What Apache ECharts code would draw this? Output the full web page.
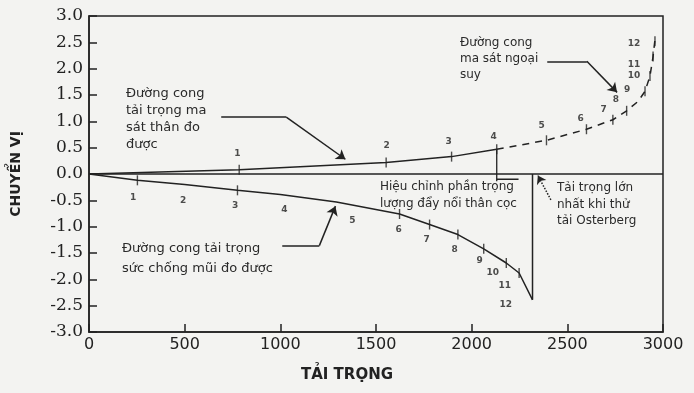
<!DOCTYPE html>
<html><head><meta charset="utf-8">
<script src="https://cdn.jsdelivr.net/npm/echarts@6/dist/echarts.min.js"></script>
<style>html,body{margin:0;padding:0;background:#f3f3f1}#c{width:694px;height:393px}</style>
</head><body><div id="c"></div>
<script>
// ---- data (load vs displacement) ----
var xTicks = [0, 500, 1000, 1500, 2000, 2500, 3000];
var yTicks = [-3.0, -2.5, -2.0, -1.5, -1.0, -0.5, 0.0, 0.5, 1.0, 1.5, 2.0, 2.5, 3.0];

// measured side-friction curve (solid)
var frictionLoad = [0, 785, 1553, 1895, 2131];
var frictionDisp = [0, 0.08, 0.22, 0.33, 0.47];
// extrapolated side-friction curve (dashed)
var extrapLoad = [2131, 2391, 2600, 2738, 2810, 2870, 2906, 2932, 2948, 2958];
var extrapDisp = [0.47, 0.64, 0.85, 1.03, 1.20, 1.38, 1.57, 1.86, 2.23, 2.55];
// numbered load steps on the upper curve
var upperStepLoad = [785, 1553, 1895, 2131, 2391, 2600, 2738, 2810, 2906, 2932, 2948, 2958];
var upperStepDisp = [0.08, 0.22, 0.33, 0.47, 0.64, 0.85, 1.03, 1.20, 1.57, 1.86, 2.23, 2.52];
var stepNames = ['1','2','3','4','5','6','7','8','9','10','11','12'];
var upperNameLoad = [775, 1555, 1880, 2115, 2366, 2570, 2690, 2754, 2812, 2848, 2848, 2848];
var upperNameDisp = [0.38, 0.53, 0.61, 0.70, 0.91, 1.06, 1.23, 1.42, 1.61, 1.86, 2.08, 2.48];

// measured end-bearing curve (solid, negative)
var bearingLoad = [0, 253, 500, 776, 1000, 1293, 1623, 1780, 1928, 2063, 2181, 2248, 2318];
var bearingDisp = [0, -0.12, -0.20, -0.31, -0.39, -0.53, -0.76, -0.96, -1.15, -1.42, -1.69, -1.88, -2.39];
var lowerTickLoad = [253, 776, 1623, 1780, 1928, 2063, 2181, 2248];
var lowerTickDisp = [-0.12, -0.31, -0.76, -0.96, -1.15, -1.42, -1.69, -1.88];
var lowerNameLoad = [230, 492, 764, 1021, 1377, 1618, 1764, 1911, 2042, 2110, 2173, 2178];
var lowerNameDisp = [-0.45, -0.51, -0.61, -0.68, -0.89, -1.06, -1.25, -1.44, -1.65, -1.88, -2.12, -2.48];

// maximum Osterberg load (vertical) and buoyant weight correction
var maxLoad = 2318;
var maxLoadDisp = [-2.39, 0.0];
var corrLoad = [2131, 2131];
var corrDisp = [0.47, -0.14];
var corrShiftLoad = [2131, 2245];
var corrShiftDisp = [-0.10, -0.10];

function zip(a, b) { return a.map(function (v, i) { return [v, b[i]]; }); }
function zip3(a, b, c) { return a.map(function (v, i) { return [v, b[i], c[i]]; }); }

var INK = '#222';
var chart = echarts.init(document.getElementById('c'), null, {renderer: 'canvas'});
var option = {
  backgroundColor: '#f3f3f1',
  animation: false,
  grid: {left: 89, right: 31, top: 16, bottom: 61, show: true, borderColor: INK, borderWidth: 1.5, backgroundColor: 'transparent'},
  xAxis: {
    type: 'value', min: 0, max: 3000, interval: 500,
    axisLine: {onZero: false, lineStyle: {color: INK, width: 1.5}},
    axisTick: {inside: true, length: 8, lineStyle: {color: INK, width: 1.5}},
    splitLine: {show: false},
    axisLabel: {color: INK, fontFamily: 'DejaVu Sans', fontSize: 16, margin: 5,
      formatter: function (v) { return xTicks.indexOf(v) >= 0 ? String(v) : ''; }}
  },
  yAxis: {
    type: 'value', min: -3, max: 3, interval: 0.5,
    name: 'CHUYỂN VỊ', nameLocation: 'middle', nameGap: 66,
    nameTextStyle: {color: INK, fontFamily: 'DejaVu Sans', fontWeight: 'bold', fontSize: 14},
    axisLine: {onZero: false, lineStyle: {color: INK, width: 1.5}},
    axisTick: {inside: true, length: 8, lineStyle: {color: INK, width: 1.5}},
    splitLine: {show: false},
    axisLabel: {color: INK, fontFamily: 'DejaVu Serif', fontSize: 17, margin: 6,
      formatter: function (v) { return v.toFixed(1); }}
  },
  graphic: [
    {type: 'text', left: 'center', top: 368, style: {text: 'TẢI TRỌNG', fill: INK, font: 'bold 15px "DejaVu Sans"'}},
    {type: 'text', x: 126, y: 85, style: {text: 'Đường cong\ntải trọng ma\nsát thân đo\nđược', fill: '#2a2a2a', font: '13px "DejaVu Sans"', lineHeight: 17}},
    {type: 'text', x: 460, y: 35, style: {text: 'Đường cong\nma sát ngoại\nsuy', fill: '#2a2a2a', font: '12px "DejaVu Sans"', lineHeight: 16}},
    {type: 'text', x: 380, y: 178, style: {text: 'Hiệu chỉnh phần trọng\nlượng đẩy nổi thân cọc', fill: '#2a2a2a', font: '12px "DejaVu Sans"', lineHeight: 17}},
    {type: 'text', x: 557, y: 180, style: {text: 'Tải trọng lớn\nnhất khi thử\ntải Osterberg', fill: '#2a2a2a', font: '12px "DejaVu Sans"', lineHeight: 16.5}},
    {type: 'text', x: 122, y: 239, style: {text: 'Đường cong tải trọng\nsức chống mũi đo được', fill: '#2a2a2a', font: '13px "DejaVu Sans"', lineHeight: 20}}
  ],
  series: [
    {name: 'friction', type: 'line', data: zip(frictionLoad, frictionDisp), symbol: 'none',
      lineStyle: {color: INK, width: 1.5},
      markLine: {silent: true, symbol: ['none', 'none'], label: {show: false},
        lineStyle: {color: INK, width: 1.5, type: 'solid'},
        data: [
          [{coord: [0, 0]}, {coord: [3000, 0]}],
          [{coord: [691, 1.08]}, {coord: [1031, 1.08]}],
          [{coord: [1031, 1.08]}, {coord: [1340, 0.28], symbol: 'arrow', symbolSize: 9}],
          [{coord: [2395, 2.14]}, {coord: [2602, 2.14]}],
          [{coord: [2602, 2.14]}, {coord: [2760, 1.55], symbol: 'arrow', symbolSize: 9}],
          [{coord: [1010, -1.36]}, {coord: [1204, -1.36]}],
          [{coord: [1204, -1.36]}, {coord: [1288, -0.61], symbol: 'arrow', symbolSize: 9}],
          [{coord: [2414, -0.49], lineStyle: {type: 'dotted', width: 1.5}}, {coord: [2346, -0.03], symbol: 'arrow', symbolSize: 8}]
        ]}},
    {name: 'extrap', type: 'line', data: zip(extrapLoad, extrapDisp), symbol: 'none',
      lineStyle: {color: INK, width: 1.5, type: [7, 6]}},
    {name: 'bearing', type: 'line', data: zip(bearingLoad, bearingDisp), symbol: 'none',
      lineStyle: {color: INK, width: 1.5}},
    {name: 'maxLoad', type: 'line', data: zip([maxLoad, maxLoad], maxLoadDisp), symbol: 'none',
      lineStyle: {color: INK, width: 1.5}},
    {name: 'corr', type: 'line', data: zip(corrLoad, corrDisp), symbol: 'none',
      lineStyle: {color: INK, width: 1.3}},
    {name: 'corrShift', type: 'line', data: zip(corrShiftLoad, corrShiftDisp), symbol: 'none',
      lineStyle: {color: INK, width: 1.3}},
    {name: 'upperTicks', type: 'scatter', data: zip(upperStepLoad, upperStepDisp), symbol: 'rect',
      symbolSize: [1.4, 10], itemStyle: {color: INK}},
    {name: 'lowerTicks', type: 'scatter', data: zip(lowerTickLoad, lowerTickDisp), symbol: 'rect',
      symbolSize: [1.4, 10], itemStyle: {color: INK}},
    {name: 'upperNames', type: 'scatter', data: zip3(upperNameLoad, upperNameDisp, stepNames), symbolSize: 0,
      label: {show: true, position: 'inside', formatter: function (p) { return p.value[2]; },
        color: INK, fontFamily: 'DejaVu Sans', fontWeight: 'bold', fontSize: 9}},
    {name: 'lowerNames', type: 'scatter', data: zip3(lowerNameLoad, lowerNameDisp, stepNames), symbolSize: 0,
      label: {show: true, position: 'inside', formatter: function (p) { return p.value[2]; },
        color: INK, fontFamily: 'DejaVu Sans', fontWeight: 'bold', fontSize: 9}}
  ]
};
chart.setOption(option);
</script></body></html>
